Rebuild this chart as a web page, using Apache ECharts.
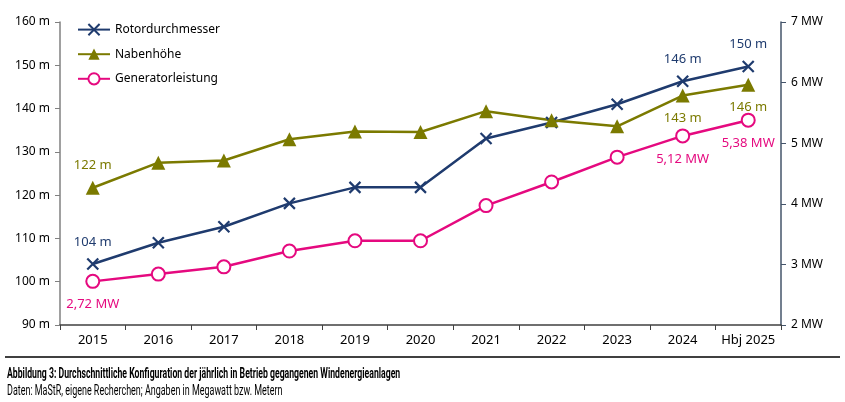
<!DOCTYPE html>
<html>
<head>
<meta charset="utf-8">
<title></title>
<script src="https://cdn.jsdelivr.net/npm/echarts@6/dist/echarts.min.js"></script>
<style>
body { margin: 0; background: #fff; }
#main { width: 845px; height: 402px; }
</style>
</head>
<body>
<div id="main"></div>
<script>
// Daten
var jahre = ['2015', '2016', '2017', '2018', '2019', '2020', '2021', '2022', '2023', '2024', 'Hbj 2025'];
var rotor = [104.1, 109.0, 112.7, 118.1, 121.8, 121.8, 133.1, 136.8, 141.0, 146.3, 149.7];
var nabe = [121.7, 127.5, 128.0, 132.9, 134.7, 134.6, 139.4, 137.3, 135.9, 143.0, 145.5];
var leistung = [2.72, 2.84, 2.96, 3.22, 3.39, 3.39, 3.97, 4.36, 4.77, 5.12, 5.38];
var linksTicks = ['90 m', '100 m', '110 m', '120 m', '130 m', '140 m', '150 m', '160 m'];
var rechtsTicks = ['2 MW', '3 MW', '4 MW', '5 MW', '6 MW', '7 MW'];

var navy = '#1f3b6e', oliv = '#7b7a00', pink = '#e5097f';
var font = '"Noto Sans", sans-serif';

// nur einzelne Punkte bekommen eine Beschriftung
function punkte(werte, labels, farbe, fmt) {
    return werte.map(function (v, i) {
        var p = labels[i];
        if (!p) return v;
        return {
            value: v,
            label: { show: true, position: p, distance: 9, color: farbe, fontSize: 13, fontFamily: font, formatter: fmt }
        };
    });
}
var fmtM = function (p) { return Math.round(p.value) + ' m'; };
var fmtMW = function (p) { return p.value.toFixed(2).replace('.', ',') + ' MW'; };

var myChart = echarts.init(document.getElementById('main'));
myChart.setOption({
    animation: false,
    textStyle: { fontFamily: font },
    grid: { left: 60, right: 64, top: 22, bottom: 77 },
    legend: {
        orient: 'vertical', left: 72, top: 18, itemGap: 12, itemWidth: 32, itemHeight: 14,
        textStyle: { fontSize: 12, color: '#000', fontFamily: font },
        data: ['Rotordurchmesser', 'Nabenhöhe', 'Generatorleistung']
    },
    xAxis: {
        type: 'category', data: jahre,
        axisLine: { lineStyle: { color: '#404040', width: 1.5 } },
        axisTick: { show: true, length: 5, lineStyle: { color: '#404040' } },
        axisLabel: { color: '#000', fontSize: 13, margin: 9, interval: 0, fontFamily: font }
    },
    yAxis: [{
        type: 'value', min: 90, max: 160, interval: 10, position: 'left',
        axisLine: { show: true, lineStyle: { color: '#808080', width: 1.5 } },
        axisTick: { show: true, length: 5, lineStyle: { color: '#808080' } },
        splitLine: { show: false },
        axisLabel: { color: '#000', fontSize: 12, margin: 10, formatter: function (v) { return linksTicks[(v - 90) / 10]; } }
    }, {
        type: 'value', min: 2, max: 7, interval: 1, position: 'right',
        axisLine: { show: true, lineStyle: { color: '#44546a', width: 1.5 } },
        axisTick: { show: true, length: 5, lineStyle: { color: '#44546a' } },
        splitLine: { show: false },
        axisLabel: { color: '#000', fontSize: 12, margin: 10, formatter: function (v) { return rechtsTicks[v - 2]; } }
    }],
    graphic: [
        { type: 'line', shape: { x1: 5, y1: 357, x2: 840, y2: 357 }, style: { stroke: '#404040', lineWidth: 2 } },
        { type: 'text', x: 7, y: 367, scaleX: 0.62, style: { text: 'Abbildung 3: Durchschnittliche Konfiguration der jährlich in Betrieb gegangenen Windenergieanlagen', font: 'bold 14px Roboto, sans-serif', fill: '#000' } },
        { type: 'text', x: 7, y: 384, scaleX: 0.64, style: { text: 'Daten: MaStR, eigene Recherchen; Angaben in Megawatt bzw. Metern', font: '14px Roboto, sans-serif', fill: '#000' } }
    ],
    series: [{
        name: 'Rotordurchmesser', type: 'line', yAxisIndex: 0,
        symbol: 'path://M0,0L10,10M10,0L0,10', symbolSize: 11,
        lineStyle: { color: navy, width: 2.5 },
        itemStyle: { color: navy, borderColor: navy, borderWidth: 2.2 },
        data: punkte(rotor, { 0: 'top', 9: 'top', 10: 'top' }, navy, fmtM)
    }, {
        name: 'Nabenhöhe', type: 'line', yAxisIndex: 0,
        symbol: 'triangle', symbolSize: 14,
        lineStyle: { color: oliv, width: 2.5 },
        itemStyle: { color: oliv },
        data: punkte(nabe, { 0: 'top', 9: 'bottom', 10: 'bottom' }, oliv, fmtM)
    }, {
        name: 'Generatorleistung', type: 'line', yAxisIndex: 1,
        symbol: 'circle', symbolSize: 13,
        lineStyle: { color: pink, width: 2.5 },
        itemStyle: { color: '#fff', borderColor: pink, borderWidth: 2 },
        data: punkte(leistung, { 0: 'bottom', 9: 'bottom', 10: 'bottom' }, pink, fmtMW)
    }]
});
</script>
</body>
</html>
